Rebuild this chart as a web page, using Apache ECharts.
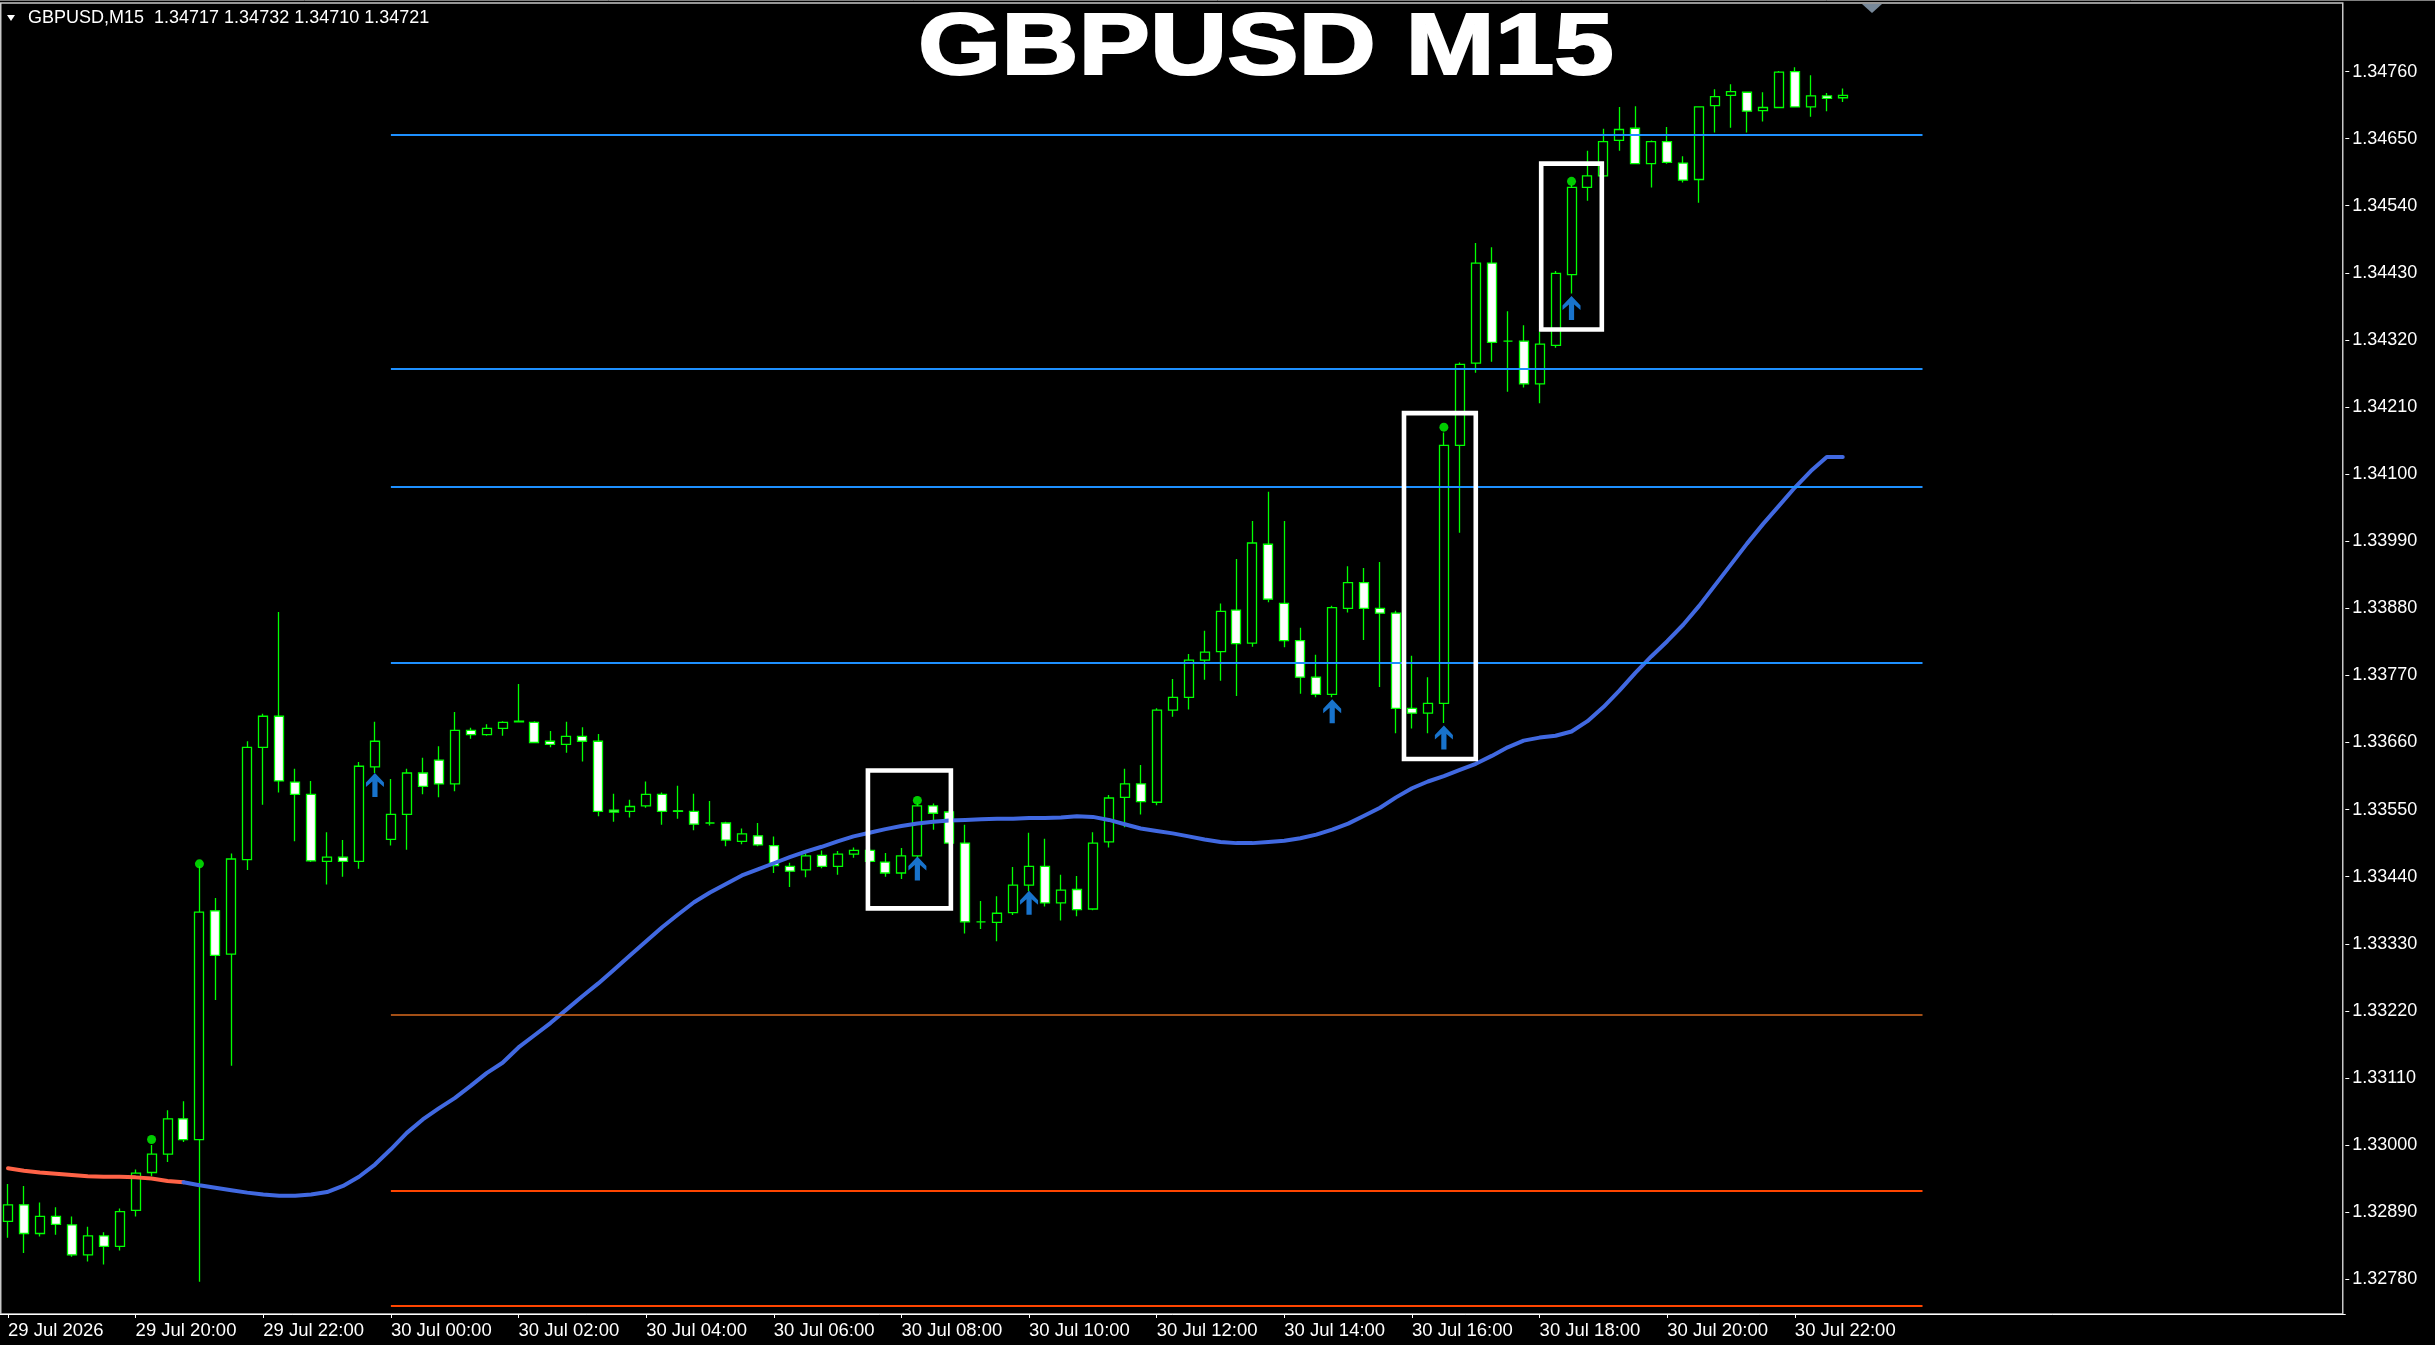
<!DOCTYPE html>
<html><head><meta charset="utf-8">
<script src="https://cdn.jsdelivr.net/npm/echarts@6/dist/echarts.min.js"></script>
<style>html,body{margin:0;padding:0;background:#000;}#c{width:2435px;height:1345px;}</style>
</head><body><div id="c"></div>
<script>
// ---------------- DATA ----------------
const symbolName = 'GBPUSD';
const timeframe = 'M15';
const titleText = 'GBPUSD M15';
const firstBarDay = 29, firstBarMinute = 18 * 60, barMinutes = 15, barSlots = 147;

const opens = [1.32875,1.32902,1.32855,1.32883,1.32869,1.32820,1.32851,1.32834,1.32893,1.32955,
1.32985,1.33043,1.33009,1.33384,1.33313,1.33468,1.33652,1.33703,1.33595,1.33575,
1.33465,1.33472,1.33465,1.33620,1.33501,1.33542,1.33610,1.33631,1.33592,1.33680,
1.33673,1.33683,1.33694,1.33693,1.33662,1.33657,1.33670,1.33662,1.33549,1.33547,
1.33556,1.33575,1.33548,1.33547,1.33528,1.33528,1.33498,1.33507,1.33491,1.33457,
1.33451,1.33475,1.33457,1.33477,1.33483,1.33464,1.33446,1.33474,1.33556,1.33546,
1.33495,1.33366,1.33365,1.33381,1.33426,1.33457,1.33397,1.33419,1.33387,1.33497,
1.33570,1.33592,1.33562,1.33713,1.33734,1.33795,1.33809,1.33877,1.33823,1.33985,
1.33888,1.33827,1.33767,1.33739,1.33880,1.33922,1.33880,1.33872,1.33716,1.33708,
1.33724,1.34147,1.34282,1.34446,1.34318,1.34318,1.34248,1.34311,1.34427,1.34570,
1.34589,1.34647,1.34667,1.34609,1.34645,1.34610,1.34583,1.34704,1.34721,1.34726,
1.34696,1.34701,1.34760,1.34702,1.34720,1.34717];
const highs = [1.32936,1.32933,1.32906,1.32898,1.32883,1.32866,1.32857,1.32896,1.32960,1.33000,
1.33057,1.33072,1.33457,1.33405,1.33478,1.33662,1.33707,1.33874,1.33617,1.33597,
1.33513,1.33500,1.33628,1.33694,1.33600,1.33617,1.33635,1.33654,1.33710,1.33684,
1.33690,1.33695,1.33756,1.33695,1.33679,1.33694,1.33685,1.33674,1.33576,1.33566,
1.33596,1.33578,1.33589,1.33576,1.33564,1.33530,1.33519,1.33528,1.33506,1.33463,
1.33478,1.33483,1.33482,1.33488,1.33486,1.33479,1.33487,1.33560,1.33560,1.33550,
1.33525,1.33400,1.33408,1.33456,1.33512,1.33502,1.33443,1.33441,1.33513,1.33574,
1.33617,1.33623,1.33716,1.33764,1.33805,1.33843,1.33888,1.33961,1.34023,1.34071,
1.34023,1.33848,1.33804,1.33884,1.33949,1.33946,1.33956,1.33876,1.33802,1.33767,
1.34168,1.34283,1.34479,1.34472,1.34367,1.34344,1.34333,1.34433,1.34574,1.34630,
1.34666,1.34702,1.34703,1.34647,1.34669,1.34621,1.34703,1.34731,1.34739,1.34727,
1.34726,1.34761,1.34767,1.34754,1.34725,1.34732];
const lows = [1.32848,1.32823,1.32850,1.32853,1.32817,1.32809,1.32804,1.32827,1.32883,1.32949,
1.32972,1.33005,1.32776,1.33238,1.33130,1.33451,1.33558,1.33578,1.33498,1.33464,
1.33427,1.33440,1.33453,1.33610,1.33491,1.33484,1.33575,1.33570,1.33580,1.33666,
1.33671,1.33671,1.33693,1.33659,1.33652,1.33643,1.33629,1.33539,1.33530,1.33537,
1.33553,1.33525,1.33535,1.33516,1.33524,1.33490,1.33493,1.33490,1.33446,1.33423,
1.33439,1.33454,1.33443,1.33471,1.33463,1.33440,1.33436,1.33472,1.33517,1.33493,
1.33347,1.33354,1.33334,1.33377,1.33416,1.33391,1.33368,1.33375,1.33385,1.33488,
1.33521,1.33542,1.33557,1.33702,1.33714,1.33763,1.33761,1.33736,1.33817,1.33890,
1.33816,1.33740,1.33734,1.33734,1.33873,1.33828,1.33751,1.33675,1.33683,1.33675,
1.33692,1.34004,1.34266,1.34284,1.34235,1.34242,1.34216,1.34307,1.34396,1.34548,
1.34587,1.34630,1.34608,1.34570,1.34609,1.34578,1.34545,1.34660,1.34668,1.34660,
1.34678,1.34700,1.34701,1.34686,1.34695,1.34710];
const closes = [1.32902,1.32855,1.32883,1.32870,1.32820,1.32851,1.32834,1.32891,1.32954,1.32985,
1.33043,1.33009,1.33382,1.33311,1.33469,1.33652,1.33703,1.33597,1.33575,1.33466,
1.33472,1.33465,1.33621,1.33662,1.33542,1.33610,1.33588,1.33592,1.33680,1.33673,
1.33683,1.33693,1.33695,1.33660,1.33657,1.33670,1.33662,1.33547,1.33546,1.33555,
1.33575,1.33547,1.33547,1.33526,1.33528,1.33500,1.33510,1.33492,1.33458,1.33449,
1.33474,1.33457,1.33477,1.33483,1.33465,1.33446,1.33474,1.33556,1.33544,1.33495,
1.33366,1.33366,1.33380,1.33426,1.33457,1.33397,1.33418,1.33386,1.33495,1.33569,
1.33592,1.33563,1.33713,1.33734,1.33795,1.33808,1.33875,1.33822,1.33987,1.33895,
1.33827,1.33767,1.33739,1.33881,1.33922,1.33880,1.33872,1.33716,1.33708,1.33724,
1.34147,1.34280,1.34446,1.34316,1.34318,1.34248,1.34313,1.34429,1.34570,1.34589,
1.34645,1.34665,1.34609,1.34645,1.34611,1.34582,1.34702,1.34719,1.34727,1.34695,
1.34701,1.34759,1.34702,1.34720,1.34716,1.34721];
const maValues = [1.32962,1.32958,1.32955,1.32953,1.32951,1.32949,1.32948,1.32948,1.32947,1.32945,
1.32941,1.32939,1.32934,1.32930,1.32926,1.32922,1.32919,1.32917,1.32917,1.32919,
1.32923,1.32933,1.32948,1.32968,1.32993,1.33020,1.33042,1.33060,1.33077,1.33097,
1.33118,1.33135,1.33160,1.33180,1.33200,1.33222,1.33244,1.33265,1.33288,1.33311,
1.33334,1.33357,1.33378,1.33398,1.33414,1.33428,1.33442,1.33452,1.33462,1.33472,
1.33481,1.33489,1.33498,1.33506,1.33512,1.33518,1.33523,1.33527,1.33530,1.33532,
1.33533,1.33534,1.33535,1.33535,1.33536,1.33536,1.33537,1.33539,1.33538,1.33533,
1.33526,1.33519,1.33515,1.33511,1.33506,1.33501,1.33497,1.33495,1.33495,1.33497,
1.33499,1.33503,1.33509,1.33517,1.33527,1.33540,1.33553,1.33570,1.33585,1.33596,
1.33605,1.33615,1.33625,1.33638,1.33652,1.33663,1.33668,1.33671,1.33678,1.33695,
1.33718,1.33745,1.33774,1.33801,1.33826,1.33853,1.33884,1.33918,1.33952,1.33986,
1.34018,1.34048,1.34078,1.34105,1.34128,1.34128];
const maFallingUntil = 11;

const levelValues = [1.34657, 1.34272, 1.34079, 1.33791, 1.33213, 1.32925, 1.32737];
const levelKinds  = ['res', 'res', 'res', 'res', 'sup1', 'sup2', 'sup2'];
const levelStartBar = 24, levelEndBar = 120;

const signalDotBars   = [9, 12, 57, 90, 98];
const signalDotPrices = [1.33009, 1.33461, 1.33565, 1.34177, 1.34580];
const arrowBars   = [23, 57, 64, 83, 90, 98];
const arrowPrices = [1.33610, 1.33473, 1.33417, 1.33731, 1.33688, 1.34392];

const boxStartBars = [53.9, 87.5, 96.1];
const boxEndBars   = [59.1, 92.0, 99.9];
const boxTops      = [1.33614, 1.34200, 1.34609];
const boxBottoms   = [1.33388, 1.33633, 1.34337];

const yTicks = [1.32780,1.32890,1.33000,1.33110,1.33220,1.33330,1.33440,1.33550,1.33660,1.33770,
1.33880,1.33990,1.34100,1.34210,1.34320,1.34430,1.34540,1.34650,1.34760];
const yMin = 1.32723, yMax = 1.34874;
const xTickCategories = ['29 Jul 18:00','29 Jul 20:00','29 Jul 22:00','30 Jul 00:00','30 Jul 02:00','30 Jul 04:00',
'30 Jul 06:00','30 Jul 08:00','30 Jul 10:00','30 Jul 12:00','30 Jul 14:00','30 Jul 16:00','30 Jul 18:00','30 Jul 20:00','30 Jul 22:00'];
const xTickTexts = ['29 Jul 2026','29 Jul 20:00','29 Jul 22:00','30 Jul 00:00','30 Jul 02:00','30 Jul 04:00',
'30 Jul 06:00','30 Jul 08:00','30 Jul 10:00','30 Jul 12:00','30 Jul 14:00','30 Jul 16:00','30 Jul 18:00','30 Jul 20:00','30 Jul 22:00'];

// ---------------- BUILD ----------------
const pad = n => String(n).padStart(2, '0');
const categories = [];
for (let i = 0; i < barSlots; i++) {
  const m = firstBarMinute + barMinutes * i;
  const day = firstBarDay + Math.floor(m / 1440), mm = m % 1440;
  categories.push(day + ' Jul ' + pad(Math.floor(mm / 60)) + ':' + pad(mm % 60));
}
const tickMap = {};
xTickCategories.forEach((c, k) => tickMap[c] = xTickTexts[k]);
const isTick = (i, v) => Object.prototype.hasOwnProperty.call(tickMap, v);

const candleData = opens.map((o, i) => [o, closes[i], lows[i], highs[i]]);
const last = opens.length - 1;
const fmt = v => v.toFixed(5);
const infoText = symbolName + ',' + timeframe + '  ' + [opens[last], highs[last], lows[last], closes[last]].map(fmt).join(' ');

const levelStyle = {
  res:  { color: '#1E90FF', width: 2 },
  sup1: { color: '#DA6A1E', width: 1.5 },
  sup2: { color: '#FF4500', width: 2 }
};
const levelLines = levelValues.map((v, k) => [
  { coord: [categories[levelStartBar], v], lineStyle: { color: levelStyle[levelKinds[k]].color, width: levelStyle[levelKinds[k]].width, type: 'solid' } },
  { coord: [categories[levelEndBar], v] }
]);

const FONT = 'Liberation Sans';
const chart = echarts.init(document.getElementById('c'), null, { renderer: 'canvas' });
chart.setOption({
  backgroundColor: '#000000',
  animation: false,
  grid: { left: -6.7, right: 89.7, top: 2, bottom: 31, containLabel: false },
  xAxis: {
    type: 'category', data: categories, boundaryGap: true,
    axisLine: { show: true, lineStyle: { color: '#ffffff', width: 1 } },
    axisTick: { show: true, alignWithLabel: true, interval: isTick, length: 4, lineStyle: { color: '#ffffff' } },
    axisLabel: { interval: isTick, formatter: v => tickMap[v] || '', align: 'left', color: '#ffffff',
      fontFamily: FONT, fontSize: 18.5, margin: 7 },
    splitLine: { show: false }
  },
  yAxis: {
    type: 'value', position: 'right', min: yMin, max: yMax, scale: true,
    axisLine: { show: false }, splitLine: { show: false },
    axisTick: { show: true, customValues: yTicks, length: 4, lineStyle: { color: '#ffffff' } },
    axisLabel: { customValues: yTicks, formatter: v => v.toFixed(5), color: '#ffffff',
      fontFamily: FONT, fontSize: 18, margin: 7 }
  },
  series: [
    {
      type: 'candlestick', data: candleData, barWidth: 9.5, z: 2,
      itemStyle: { color: '#000000', color0: '#ffffff', borderColor: '#00ff00', borderColor0: '#00ff00',
        borderColorDoji: '#00ff00', borderWidth: 1.3 },
      emphasis: { disabled: true },
      markLine: {
        silent: true, symbol: ['none', 'none'], animation: false,
        label: { show: false },
        data: levelLines.concat([{
          yAxis: closes[last],
          lineStyle: { color: '#8c8c8c', width: 1, type: 'solid' },
          label: { show: true, position: 'end', distance: 0, formatter: () => fmt(closes[last]),
            backgroundColor: '#ffffff', color: '#000000', fontFamily: FONT, fontSize: 18, padding: [3, 7, 2, 8] }
        }])
      }
    },
    {
      type: 'line', z: 4, showSymbol: false, symbol: 'none', silent: true,
      data: maValues.map((v, i) => i <= maFallingUntil ? v : null),
      lineStyle: { color: '#FF6347', width: 4, cap: 'round', join: 'round' }
    },
    {
      type: 'line', z: 4, showSymbol: false, symbol: 'none', silent: true,
      data: maValues.map((v, i) => i >= maFallingUntil ? v : null),
      lineStyle: { color: '#4169E1', width: 4, cap: 'round', join: 'round' }
    },
    {
      type: 'custom', z: 5, silent: true,
      data: boxTops.map((t, k) => [Math.round(boxStartBars[k]), t]),
      renderItem: function (params, api) {
        const k = params.dataIndex;
        const s = boxStartBars[k], e = boxEndBars[k];
        const p0 = api.coord([0, boxTops[k]]), p1 = api.coord([1, boxTops[k]]);
        const bw = p1[0] - p0[0];
        const xs = api.coord([Math.floor(s), boxTops[k]])[0] + (s - Math.floor(s)) * bw;
        const xe = api.coord([Math.floor(e), boxTops[k]])[0] + (e - Math.floor(e)) * bw;
        const yt = api.coord([0, boxTops[k]])[1];
        const yb = api.coord([0, boxBottoms[k]])[1];
        return { type: 'rect', shape: { x: xs, y: yt, width: xe - xs, height: yb - yt },
          style: { fill: 'none', stroke: '#ffffff', lineWidth: 4.6 } };
      }
    },
    {
      type: 'scatter', z: 6, silent: true, symbol: 'circle', symbolSize: 9,
      data: signalDotBars.map((b, k) => [b, signalDotPrices[k]]),
      itemStyle: { color: '#00ff00' }
    },
    {
      type: 'scatter', z: 6, silent: true,
      symbol: 'path://M9,0 L18,9.5 L18,14 L11.6,8.5 L11.6,24 L6.4,24 L6.4,8.5 L0,14 L0,9.5 Z',
      symbolSize: [18, 24], symbolOffset: [0, 12],
      data: arrowBars.map((b, k) => [b, arrowPrices[k]]),
      itemStyle: { color: '#1E90FF' }
    }
  ],
  graphic: [
    { type: 'line', silent: true, shape: { x1: 0, y1: 0.5, x2: 2435, y2: 0.5 }, style: { stroke: '#808080', lineWidth: 1 } },
    { type: 'rect', silent: true, shape: { x: 0.75, y: 3, width: 2342, height: 1311 },
      style: { fill: 'none', stroke: '#c8c8c8', lineWidth: 1.5 } },
    { type: 'polygon', silent: true, shape: { points: [[7, 15], [15, 15], [11, 21]] }, style: { fill: '#ffffff' } },
    { type: 'text', silent: true, x: 28, y: 18.5,
      style: { text: infoText, fill: '#ffffff', font: '18px "' + FONT + '"', verticalAlign: 'middle', align: 'left' } },
    { type: 'polygon', silent: true, shape: { points: [[1862, 4], [1882, 4], [1872, 13]] }, style: { fill: '#778899' } },
    { type: 'text', silent: true, x: 918, y: 7, scaleX: 1.23, scaleY: 1,
      style: { text: titleText, fill: '#ffffff', stroke: '#ffffff', lineWidth: 2,
        font: 'bold 87px Arial, "Liberation Sans", sans-serif', verticalAlign: 'top', align: 'left' } }
  ]
});
</script></body></html>
